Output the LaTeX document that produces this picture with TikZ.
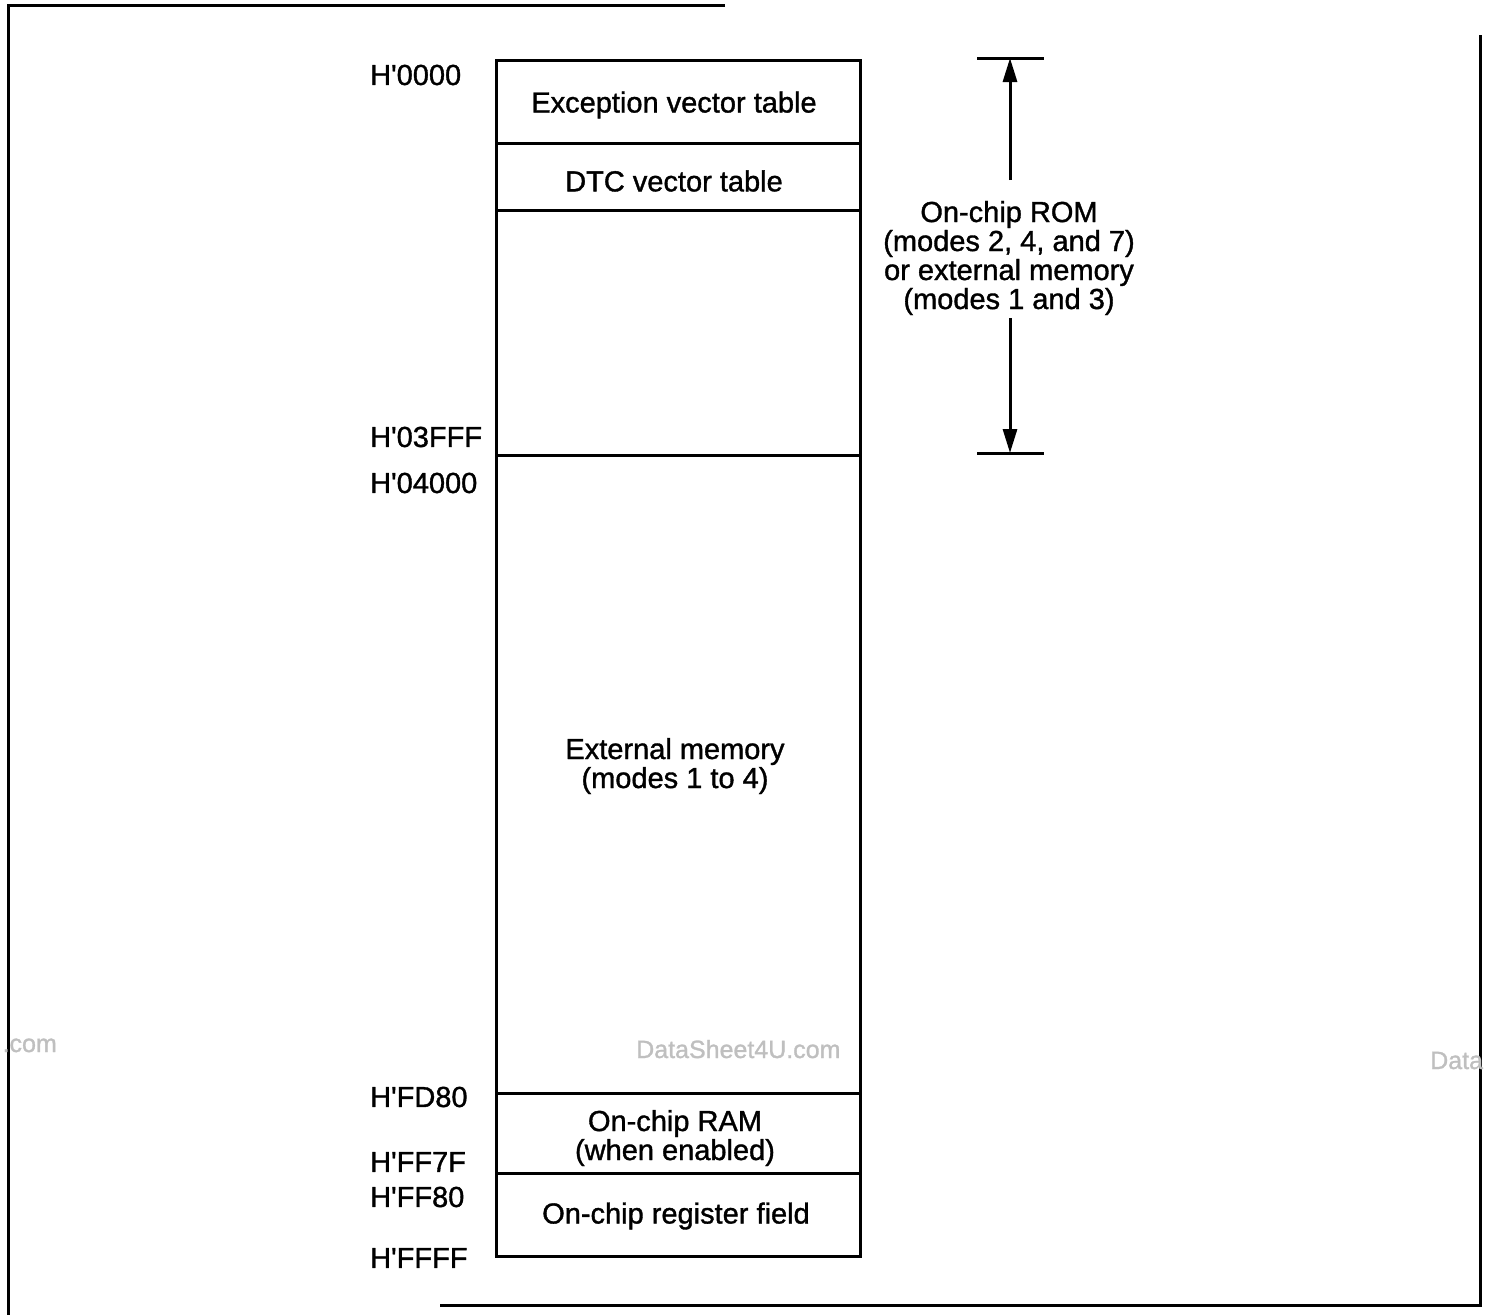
\documentclass[tikz,border=0pt]{standalone}
\usepackage{fontspec}
\setmainfont[FakeBold=1.2]{Liberation Sans}
\usetikzlibrary{arrows.meta}
\begin{document}
\begin{tikzpicture}[x=1pt,y=-1pt,
  txt/.style={font=\fontsize{29}{29}\selectfont},
  region/.style={draw, line width=3pt, minimum width=364pt, inner sep=0pt},
  rtext/.style={align=center, inner sep=0pt, txt},
  addr/.style={anchor=west, inner sep=0pt, txt},
  frameline/.style={line width=3pt},
  tick/.style={line width=3pt},
  dim/.style={line width=3pt, -{Triangle[length=24pt,width=14pt]}},
  wm/.style={text=black!25, font=\fontsize{25}{25}\selectfont, inner sep=0pt}]
\useasboundingbox (0,0) rectangle (1486,1315);

% page frame
\coordinate (f1) at (8,5);
\coordinate (f2) at (725,5);
\coordinate (f3) at (8,1315);
\coordinate (f4) at (1480,35);
\coordinate (f5) at (1480,1305);
\coordinate (f6) at (440,1305);
\draw[frameline] (f2) -- (f1) -- (f3);
\draw[frameline] (f4) -- (f5) -- (f6);

% memory map
\node[region, minimum height=83pt]  (evt) at (678,101.5) {};
\node[region, minimum height=67pt]  (dtc) at (678,176.5) {};
\node[region, minimum height=245pt] (rom) at (678,332.5) {};
\node[region, minimum height=638pt] (ext) at (678,774) {};
\node[region, minimum height=80pt]  (ram) at (678,1133) {};
\node[region, minimum height=83pt]  (reg) at (678,1214.5) {};

\node[rtext] (evtt) at (674,105) {Exception vector table};
\node[rtext] (dtct) at (674,181) {DTC vector table};
\node[rtext] (extt) at (675,766) {External memory\\(modes 1 to 4)};
\node[rtext] (ramt) at (675,1138) {On-chip RAM\\(when enabled)};
\node[rtext] (regt) at (676,1216) {On-chip register field};

% addresses
\node[addr] (a0) at (370,75)   {H\textquotesingle 0000};
\node[addr] (a1) at (370,437)  {H\textquotesingle 03FFF};
\node[addr] (a2) at (370,483)  {H\textquotesingle 04000};
\node[addr] (a3) at (370,1097) {H\textquotesingle FD80};
\node[addr] (a4) at (370,1162) {H\textquotesingle FF7F};
\node[addr] (a5) at (370,1197) {H\textquotesingle FF80};
\node[addr] (a6) at (370,1258) {H\textquotesingle FFFF};

% dimension on the right
\node[rtext] (romlbl) at (1009,258)
  {On-chip ROM\\(modes 2, 4, and 7)\\or external memory\\(modes 1 and 3)};
\coordinate (ttl) at (977,58);
\coordinate (ttr) at (1044,58);
\coordinate (tbl) at (977,453);
\coordinate (tbr) at (1044,453);
\coordinate (tt) at (1010,58);
\coordinate (tb) at (1010,453);
\coordinate (as) at (1010,180);
\coordinate (ae) at (1010,318);
\draw[tick] (ttl) -- (ttr);
\draw[tick] (tbl) -- (tbr);
\draw[dim] (as) -- (tt);
\draw[dim] (ae) -- (tb);

% watermarks
\node[wm, anchor=base east] (wm1) at (57,1052) {.com};
\node[wm, anchor=base west] (wm2) at (636,1058) {DataSheet4U.com};
\node[wm, anchor=base west] (wm3) at (1430,1069) {Data};
\end{tikzpicture}
\end{document}
